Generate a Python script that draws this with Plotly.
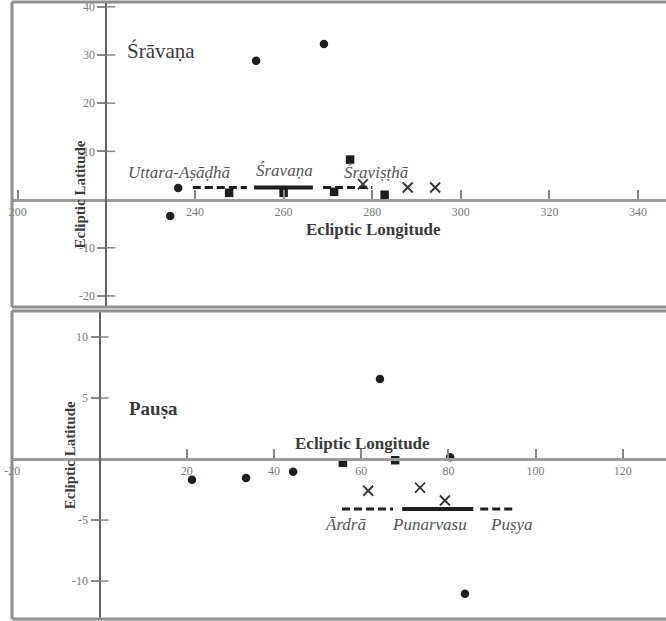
import plotly.graph_objects as go

# ---------------- data: top panel (Śrāvaṇa) ----------------
top_circle_lon = [236.2, 234.4, 253.8, 269.1]
top_circle_lat = [2.4, -3.4, 28.8, 32.3]
top_square_lon = [247.7, 260.0, 271.4, 275.0, 282.8]
top_square_lat = [1.4, 1.4, 1.6, 8.3, 1.0]
top_cross_lon = [277.9, 288.0, 294.2]
top_cross_lat = [3.2, 2.5, 2.5]
top_seg_names = ["Uttara-Aṣāḍhā", "Śravaṇa", "Śraviṣṭhā"]
top_seg_start = [239.5, 253.3, 268.9]
top_seg_end = [251.7, 266.6, 280.0]
top_seg_lat = [2.5, 2.5, 2.5]
top_xticks = [200, 240, 260, 280, 300, 320, 340]
top_yticks = [40, 30, 20, 10, -10, -20]
top_title = "Śrāvaṇa"

# ---------------- data: bottom panel (Pauṣa) ----------------
bot_circle_lon = [21.2, 33.6, 44.4, 64.3, 80.4, 83.8]
bot_circle_lat = [-1.7, -1.55, -1.05, 6.55, 0.15, -11.05]
bot_square_lon = [55.8, 67.8]
bot_square_lat = [-0.3, -0.1]
bot_cross_lon = [61.6, 73.5, 79.2]
bot_cross_lat = [-2.6, -2.35, -3.4]
bot_seg_names = ["Ārdrā", "Punarvasu", "Puṣya"]
bot_seg_start = [55.6, 69.4, 87.3]
bot_seg_end = [67.3, 85.7, 94.8]
bot_seg_lat = [-4.1, -4.1, -4.1]
bot_xticks = [-20, 20, 40, 60, 80, 100, 120]
bot_yticks = [10, 5, -5, -10]
bot_title = "Pauṣa"

# ---------------- layout config ----------------
W, H = 666, 621
SERIF = "Liberation Serif, Times New Roman, serif"
INK = "#1e1e1e"
seg_dash = ["8px,4px", "solid", "8px,4px"]
seg_width = [3, 4, 3]

x_dom = [12 / W, 1.0]
top_dom = [1 - 307 / H, 1 - 2 / H]
bot_dom = [1 - 619 / H, 1 - 311 / H]
top_xr = [198.7, 346.3]
top_yr = [-22.3, 41.0]
bot_xr = [-20.07, 129.9]
bot_yr = [-13.11, 12.13]
top_ycross = 220   # longitude where the latitude axis stands
bot_ycross = 0


def pos_y(dom, rng, v=0.0):
    return dom[0] + (v - rng[0]) / (rng[1] - rng[0]) * (dom[1] - dom[0])


def pos_x(dom, rng, v):
    return dom[0] + (v - rng[0]) / (rng[1] - rng[0]) * (dom[1] - dom[0])


fig = go.Figure()


def add_panel(xa, ya, c_lon, c_lat, s_lon, s_lat, x_lon, x_lat,
              names, starts, ends, lats):
    for n, a, b, la, d, w in zip(names, starts, ends, lats, seg_dash, seg_width):
        fig.add_trace(go.Scatter(x=[a, b], y=[la, la], mode="lines",
                                 line=dict(color=INK, width=w, dash=d),
                                 xaxis=xa, yaxis=ya, hoverinfo="skip"))
    fig.add_trace(go.Scatter(x=c_lon, y=c_lat, mode="markers",
                             marker=dict(symbol="circle", size=8.5, color=INK),
                             xaxis=xa, yaxis=ya))
    fig.add_trace(go.Scatter(x=s_lon, y=s_lat, mode="markers",
                             marker=dict(symbol="square", size=8.5, color=INK),
                             xaxis=xa, yaxis=ya))
    fig.add_trace(go.Scatter(x=x_lon, y=x_lat, mode="markers",
                             marker=dict(symbol="x-thin", size=10,
                                         line=dict(color="#333", width=1.8)),
                             xaxis=xa, yaxis=ya))


add_panel("x", "y", top_circle_lon, top_circle_lat, top_square_lon, top_square_lat,
          top_cross_lon, top_cross_lat, top_seg_names, top_seg_start, top_seg_end, top_seg_lat)
add_panel("x2", "y2", bot_circle_lon, bot_circle_lat, bot_square_lon, bot_square_lat,
          bot_cross_lon, bot_cross_lat, bot_seg_names, bot_seg_start, bot_seg_end, bot_seg_lat)

tickfont = dict(family=SERIF, size=12, color="#7a7a7a")


def xaxis_cfg(rng, ydom, yrng, ticks):
    return dict(domain=x_dom, range=rng, anchor="free", position=pos_y(ydom, yrng),
                showline=True, linecolor="#9c9c9c", linewidth=3,
                ticks="inside", ticklen=9, tickwidth=1.5, tickcolor="#888",
                tickvals=ticks, ticktext=[str(t) for t in ticks], tickfont=tickfont,
                ticklabeloverflow="allow",
                showgrid=False, zeroline=False, fixedrange=True, automargin=False)


def yaxis_cfg(rng, dom, xrng, cross, ticks):
    return dict(domain=dom, range=rng, anchor="free", position=pos_x(x_dom, xrng, cross),
                showline=True, linecolor="#626262", linewidth=2,
                ticks="outside", ticklen=8, tickwidth=1.5, tickcolor="#888",
                tickvals=ticks, ticktext=[str(t) for t in ticks], tickfont=tickfont,
                ticklabeloverflow="allow",
                showgrid=False, zeroline=False, fixedrange=True, automargin=False)


shapes = []
# panel frames (left, top, bottom edges)
for dom in (top_dom, bot_dom):
    for (x0, y0, x1, y1) in [(x_dom[0], dom[0], x_dom[0], dom[1]),
                             (x_dom[0], dom[1], 1.0, dom[1]),
                             (x_dom[0], dom[0], 1.0, dom[0])]:
        shapes.append(dict(type="line", xref="paper", yref="paper",
                           x0=x0, y0=y0, x1=x1, y1=y1,
                           line=dict(color="#8e8e8e", width=3)))
# inner halves of latitude ticks (ticks cross the axis)
for xr, yr, cross, ticks in [("x", "y", top_ycross, top_yticks),
                             ("x2", "y2", bot_ycross, bot_yticks)]:
    for t in ticks:
        shapes.append(dict(type="line", xref=xr, yref=yr, xsizemode="pixel",
                           xanchor=cross, x0=0, x1=9, y0=t, y1=t,
                           line=dict(color="#888", width=1.5)))

ann = []


def txt(text, x, y, xr, yr, size, color="#444", angle=0):
    ann.append(dict(text=text, x=x, y=y, xref=xr, yref=yr, showarrow=False,
                    textangle=angle, font=dict(family=SERIF, size=size, color=color),
                    xanchor="center", yanchor="middle"))


# top panel texts
txt(top_title, 232.3, 30.8, "x", "y", 21, "#3a3a3a")
top_lbl_pos = [(236.4, 5.6), (260.3, 6.0), (280.9, 5.6)]
for n, (lx, ly) in zip(top_seg_names, top_lbl_pos):
    txt("<i>" + n + "</i>", lx, ly, "x", "y", 17, "#555")
txt("<b>Ecliptic Longitude</b>", 280.2, -6.3, "x", "y", 17, "#3a3a3a")
txt("<b>Ecliptic Latitude</b>", 214.0, 1.0, "x", "y", 15, "#3a3a3a", -90)

# bottom panel texts
txt("<b>" + bot_title + "</b>", 12.3, 4.1, "x2", "y2", 19, "#3a3a3a")
bot_lbl_pos = [(56.5, -5.4), (75.6, -5.4), (94.4, -5.4)]
for n, (lx, ly) in zip(bot_seg_names, bot_lbl_pos):
    txt("<i>" + n + "</i>", lx, ly, "x2", "y2", 17, "#555")
txt("<b>Ecliptic Longitude</b>", 60.2, 1.3, "x2", "y2", 17, "#3a3a3a")
txt("<b>Ecliptic Latitude</b>", -6.8, 0.3, "x2", "y2", 15, "#3a3a3a", -90)

fig.update_layout(
    width=W, height=H, margin=dict(l=0, r=0, t=0, b=0, autoexpand=False),
    paper_bgcolor="white", plot_bgcolor="white", showlegend=False,
    xaxis=xaxis_cfg(top_xr, top_dom, top_yr, top_xticks),
    yaxis=yaxis_cfg(top_yr, top_dom, top_xr, top_ycross, top_yticks),
    xaxis2=xaxis_cfg(bot_xr, bot_dom, bot_yr, bot_xticks),
    yaxis2=yaxis_cfg(bot_yr, bot_dom, bot_xr, bot_ycross, bot_yticks),
    shapes=shapes, annotations=ann,
)

fig.write_html("out.html", config={"displayModeBar": False},
               post_script="document.body.style.margin='0';"
                           "document.body.style.overflow='hidden';")
